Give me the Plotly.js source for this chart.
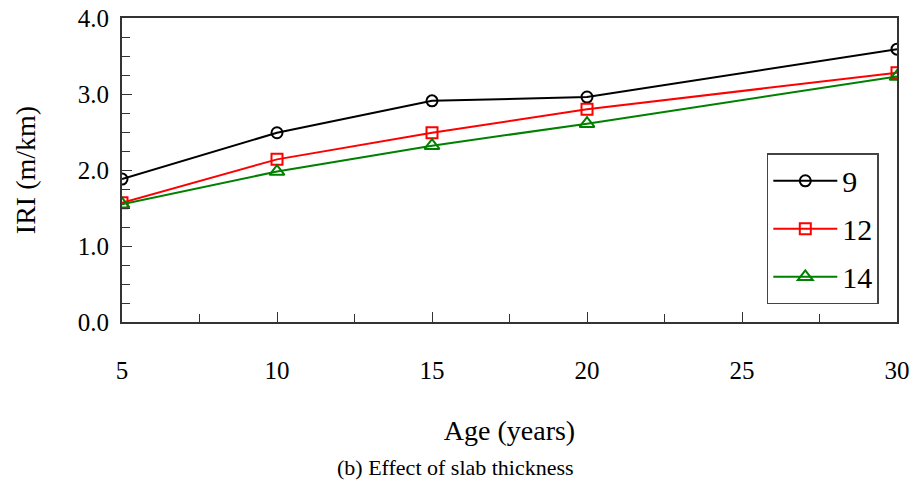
<!DOCTYPE html>
<html>
<head>
<meta charset="utf-8">
<script src="https://cdn.plot.ly/plotly-3.0.1.min.js"></script>
<style>html,body{margin:0;padding:0;background:#fff}#chart{width:916px;height:487px}</style>
</head>
<body>
<div id="chart"></div>
<script>
const ages = [5, 10, 15, 20, 30];
const iri9 = [1.88, 2.49, 2.91, 2.96, 3.59];
const iri12 = [1.57, 2.14, 2.49, 2.80, 3.28];
const iri14 = [1.55, 1.98, 2.32, 2.61, 3.23];
const seriesNames = ['9', '12', '14'];
const xTicks = [5, 10, 15, 20, 25, 30];
const yTicks = [0, 1, 2, 3, 4];

const font = 'Liberation Serif';
function tr(y, name, color, symbol, size) {
  return {
    x: ages, y: y, name: name, legendgroup: name, type: 'scatter', mode: 'lines+markers',
    line: {color: color, width: 2},
    marker: {symbol: symbol, size: size, color: 'rgba(255,255,255,0)', line: {color: color, width: 2}}
  };
}
const data = [
  tr(iri9, seriesNames[0], '#000000', 'circle', 11),
  tr(iri12, seriesNames[1], '#ff0000', 'square', 11),
  tr(iri14, seriesNames[2], '#008000', 'triangle-up', 13)
];
const layout = {
  width: 916, height: 487,
  margin: {l: 122, r: 19, t: 18, b: 165},
  paper_bgcolor: '#fff', plot_bgcolor: '#fff',
  font: {family: font, color: '#000', size: 24},
  showlegend: true,
  legend: {
    x: 0.832, y: 0.555, xanchor: 'left', yanchor: 'top',
    bordercolor: '#444', borderwidth: 1.5, bgcolor: '#fff',
    font: {family: font, size: 30}, itemwidth: 64, tracegroupgap: 6
  },
  xaxis: {
    range: [5, 30], tickvals: xTicks, ticktext: xTicks.map(String),
    ticks: 'inside', ticklen: 10, tickwidth: 1, tickcolor: '#333',
    minor: {ticks: 'inside', dtick: 2.5, tick0: 5, ticklen: 8, tickcolor: '#333', tickwidth: 1},
    showline: true, linecolor: '#333', linewidth: 2, mirror: true,
    showgrid: false, zeroline: false, ticklabelstandoff: 25,
    tickfont: {size: 25, family: font},
    title: {text: 'Age (years)', font: {size: 28, family: font}, standoff: 37}
  },
  yaxis: {
    range: [0, 4], tickvals: yTicks, ticktext: yTicks.map(v => v.toFixed(1)),
    ticks: 'inside', ticklen: 10, tickwidth: 1, tickcolor: '#333',
    minor: {ticks: 'inside', dtick: 0.25, tick0: 0, ticklen: 8, tickcolor: '#333', tickwidth: 1},
    showline: true, linecolor: '#333', linewidth: 2, mirror: true,
    showgrid: false, zeroline: false, ticklabelstandoff: 6,
    tickfont: {size: 25, family: font},
    title: {text: 'IRI (m/km)', font: {size: 28, family: font}, standoff: 34}
  },
  annotations: [{
    text: '(b) Effect of slab thickness', xref: 'paper', yref: 'paper',
    x: 0.43, y: -0.48, xanchor: 'center', yanchor: 'middle', showarrow: false,
    font: {size: 22, family: font}
  }]
};
Plotly.newPlot('chart', data, layout, {displayModeBar: false, staticPlot: true});
</script>
</body>
</html>
